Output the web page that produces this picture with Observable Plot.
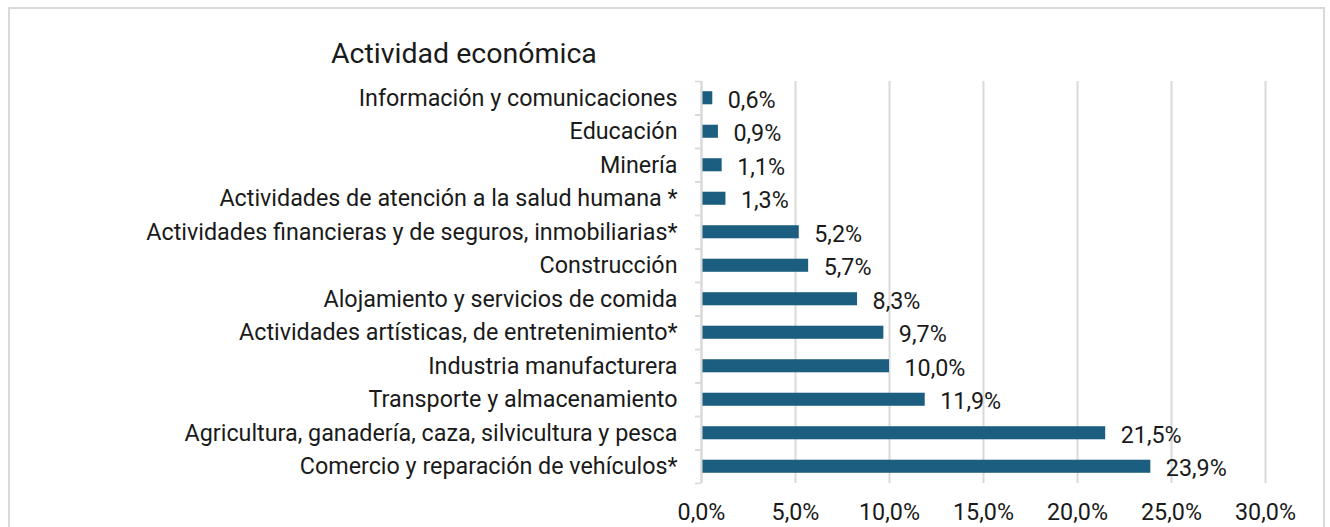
<!DOCTYPE html>
<html>
<head>
<meta charset="utf-8">
<script src="https://cdn.jsdelivr.net/npm/d3@7"></script>
<script src="https://cdn.jsdelivr.net/npm/@observablehq/plot@0.6"></script>
<style>
  html, body { margin: 0; padding: 0; background: #fff; overflow: hidden; }
  #wrap { position: relative; width: 1330px; height: 527px; overflow: hidden; font-family: Roboto, "Liberation Sans", sans-serif; }
  #frame { position: absolute; left: 8px; top: 7px; width: 1317px; height: 600px; border: 2px solid #d9d9d9; box-sizing: border-box; }
  #title { position: absolute; left: 331px; top: 37px; font-size: 28.5px; color: #1a1a1a; white-space: nowrap; line-height: 1.2; }
  #chart { position: absolute; left: 0; top: 70px; line-height: 0; }
</style>
</head>
<body>
<div id="wrap">
  <div id="frame"></div>
  <div id="title">Actividad económica</div>
  <div id="chart"></div>
</div>
<script>
const categories = [
  "Información y comunicaciones",
  "Educación",
  "Minería",
  "Actividades de atención a la salud humana *",
  "Actividades financieras y de seguros, inmobiliarias*",
  "Construcción",
  "Alojamiento y servicios de comida",
  "Actividades artísticas, de entretenimiento*",
  "Industria manufacturera",
  "Transporte y almacenamiento",
  "Agricultura, ganadería, caza, silvicultura y pesca",
  "Comercio y reparación de vehículos*"
];
const values = [0.6, 0.9, 1.1, 1.3, 5.2, 5.7, 8.3, 9.7, 10.0, 11.9, 21.5, 23.9];
const xTicks = [0, 5, 10, 15, 20, 25, 30];

const data = categories.map((c, i) => ({category: c, value: values[i]}));
const fmt = d => d.toFixed(1).replace(".", ",") + "%";

const H = 457, mTop = 11, mBottom = 44;
const step = (H - mTop - mBottom) / categories.length;
const FS = 23.3;

const chart = Plot.plot({
  width: 1330,
  height: H,
  marginLeft: 701,
  marginRight: 65,
  marginTop: mTop,
  marginBottom: mBottom,
  style: {fontFamily: "Roboto, 'Liberation Sans', sans-serif", fontSize: FS + "px", color: "#1a1a1a", background: "transparent"},
  x: {domain: [0, 30], ticks: xTicks, tickFormat: fmt},
  y: {domain: categories, paddingInner: 0.61, paddingOuter: 0.305, round: false, label: null},
  marks: [
    Plot.gridX(xTicks, {stroke: "#d9d9d9", strokeOpacity: 1, strokeWidth: 2}),
    Plot.axisX(xTicks, {tickSize: 0, tickPadding: 20, tickFormat: fmt, label: null, fontSize: FS}),
    Plot.axisY({tickSize: 0, tickPadding: 24, label: null, fontSize: FS}),
    Plot.axisY({tickSize: 6, text: null, label: null, dy: step / 2, stroke: "#d9d9d9", strokeWidth: 1.5}),
    Plot.axisY({tickSize: 6, text: null, label: null, dy: -step / 2, stroke: "#d9d9d9", strokeWidth: 1.5}),
    Plot.barX(data, {x: "value", y: "category", fill: "#1b5e80"}),
    Plot.ruleX([0], {stroke: "#d9d9d9", strokeWidth: 2}),
    Plot.text(data, {x: "value", y: "category", text: d => fmt(d.value), textAnchor: "start", dx: 15, dy: 2, fontSize: FS, fill: "#1a1a1a"})
  ]
});
document.getElementById("chart").appendChild(chart);
</script>
</body>
</html>
